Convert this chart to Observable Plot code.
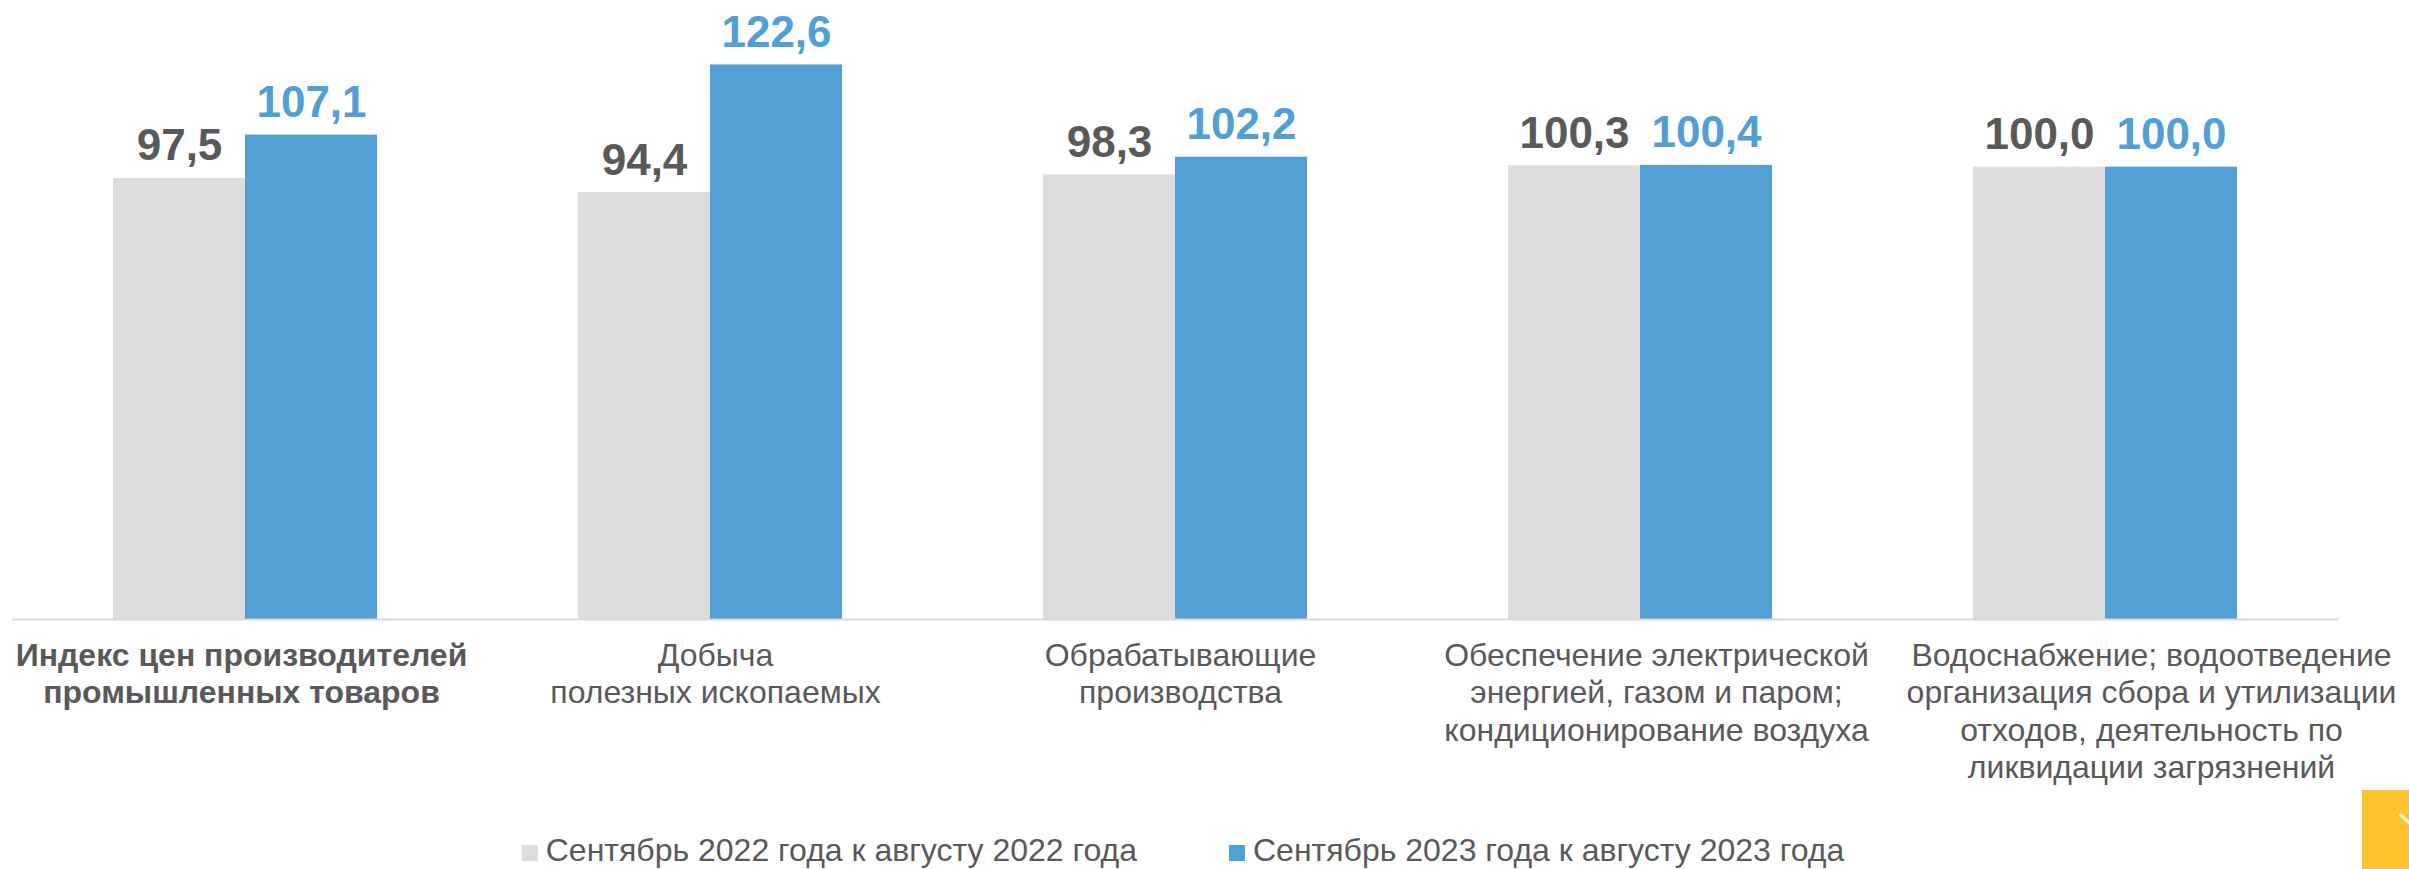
<!DOCTYPE html>
<html><head><meta charset="utf-8">
<script src="https://cdn.jsdelivr.net/npm/d3@7"></script>
<script src="https://cdn.jsdelivr.net/npm/@observablehq/plot@0.6"></script>
<style>
html,body{margin:0;padding:0;background:#fff;font-family:"Liberation Sans",Arial,sans-serif;}
#wrap{position:relative;width:2409px;height:869px;overflow:hidden}
#chart svg{display:block}
#legend{position:absolute;left:0;top:834px;width:2366px;display:flex;justify-content:center;gap:92px;font-size:32px;line-height:32px;color:#595959;white-space:nowrap}
.item{display:flex;align-items:center}
.sw{width:16px;height:16px;margin-right:8px;position:relative;top:3px}
#corner{position:absolute;left:2362px;top:790px;width:60px;height:80px;background:#FFC12E}
</style></head><body>
<div id="wrap"><div id="chart"></div><div id="legend"></div>
<div id="corner"><svg width="60" height="80"><polyline points="38,24 52,38" fill="none" stroke="#fff" stroke-width="3"/></svg></div></div>
<script>
const categories = [
  "Индекс цен производителей\nпромышленных товаров",
  "Добыча\nполезных ископаемых",
  "Обрабатывающие\nпроизводства",
  "Обеспечение электрической\nэнергией, газом и паром;\nкондиционирование воздуха",
  "Водоснабжение; водоотведение\nорганизация сбора и утилизации\nотходов, деятельность по\nликвидации загрязнений"
];
const series = ["Сентябрь 2022 года к августу 2022 года", "Сентябрь 2023 года к августу 2023 года"];
const values2022 = [97.5, 94.4, 98.3, 100.3, 100.0];
const values2023 = [107.1, 122.6, 102.2, 100.4, 100.0];
const colors = ["#DDDDDD", "#529FD6"];

const data = categories.flatMap((c, i) => [
  {cat: c, series: series[0], value: values2022[i]},
  {cat: c, series: series[1], value: values2023[i]}
]);
const fmt = v => v.toFixed(1).replace(".", ",");
const H = 830, base = 619;
const labelStyle = {frameAnchor: "bottom", lineAnchor: "top", dy: 20, fontSize: 32, lineHeight: 1.166, fill: "#595959", fontFamily: "Liberation Sans, Arial, sans-serif", text: d => d, fx: d => d};
const valStyle = {fx: "cat", x: "series", y: "value", text: d => fmt(d.value), lineAnchor: "bottom", dy: -18, fontSize: 44, fontWeight: "bold", fontFamily: "Liberation Sans, Arial, sans-serif"};

const chart = Plot.plot({
  width: 2409, height: H,
  marginLeft: 12, marginRight: 71, marginTop: 0, marginBottom: H - base,
  style: {fontFamily: "Liberation Sans, Arial, sans-serif", background: "#fff"},
  fx: {domain: categories, paddingInner: 0.432, paddingOuter: 0.216, axis: null, label: null},
  x: {domain: series, padding: 0, axis: null},
  y: {domain: [0, 136.85], axis: null},
  color: {domain: series, range: colors},
  marks: [
    Plot.barY(data, {fx: "cat", x: "series", y: "value", fill: "series"}),
    Plot.ruleY([0], {stroke: "#D9D9D9", strokeWidth: 2, insetLeft: -101, insetRight: -101}),
    Plot.text(data.filter(d => d.series === series[0]), {...valStyle, fill: "#595959"}),
    Plot.text(data.filter(d => d.series === series[1]), {...valStyle, fill: "#529FD6"}),
    Plot.text(categories.slice(0, 1), {...labelStyle, fontWeight: "bold", dx: -4}),
    Plot.text(categories.slice(1, 3), {...labelStyle, dx: 5}),
    Plot.text(categories.slice(3, 4), {...labelStyle, dx: 16}),
    Plot.text(categories.slice(4, 5), {...labelStyle, dx: 46})
  ]
});
document.getElementById("chart").append(chart);

const legend = document.getElementById("legend");
series.forEach((s, i) => {
  const it = document.createElement("div"); it.className = "item";
  const sw = document.createElement("span"); sw.className = "sw"; sw.style.background = colors[i];
  const tx = document.createElement("span"); tx.textContent = s;
  it.append(sw, tx); legend.append(it);
});
</script>
</body></html>
